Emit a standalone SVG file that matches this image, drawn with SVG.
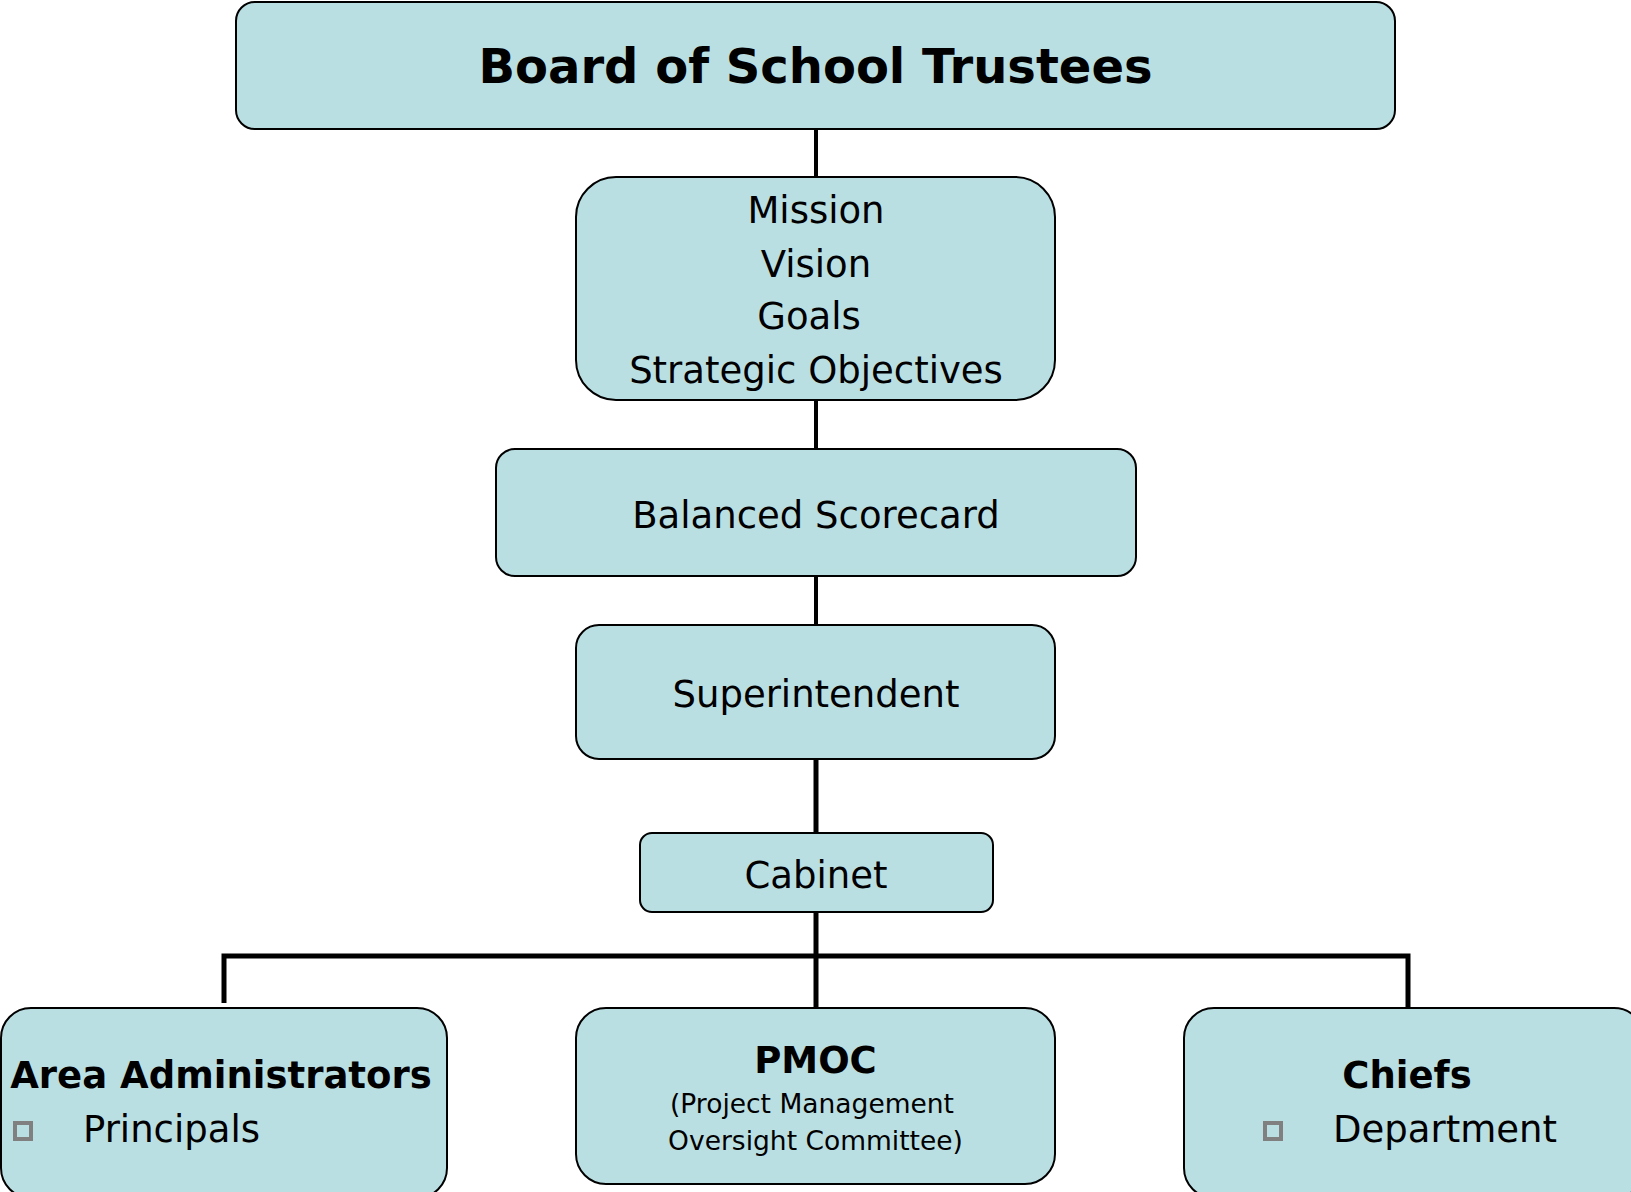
<svg xmlns="http://www.w3.org/2000/svg" width="1631" height="1192" viewBox="0 0 1631 1192">
<style>
.box{fill:#BADFE3;stroke:#000;stroke-width:2}
.t{font-family:"DejaVu Sans","Verdana",sans-serif;font-size:37px;fill:#000;text-anchor:middle}
.b{font-weight:bold}
.s{font-size:26.5px}
.tl{text-anchor:start}
.bul{fill:none;stroke:#808080;stroke-width:4}
.c{stroke:#000;fill:none;stroke-linecap:butt}
</style>
<rect width="1631" height="1192" fill="#fff"/>
<g id="connectors">
<line class="c" x1="816" y1="129" x2="816" y2="177" stroke-width="4"/>
<line class="c" x1="816" y1="400" x2="816" y2="449" stroke-width="4"/>
<line class="c" x1="816" y1="576" x2="816" y2="625" stroke-width="4"/>
<line class="c" x1="816" y1="759" x2="816" y2="833" stroke-width="5"/>
<line class="c" x1="816" y1="912" x2="816" y2="1008" stroke-width="5"/>
<polyline class="c" points="224,1003 224,956 1408,956 1408,1008" stroke-width="5"/>
</g>
<g id="board">
<rect class="box" x="236" y="2" width="1159" height="127" rx="19"/>
<text class="t b" x="815.5" y="83" style="font-size:48px">Board of School Trustees</text>
</g>
<g id="mission">
<rect class="box" x="576" y="177" width="479" height="223" rx="40"/>
<text class="t" x="816" y="223">Mission</text>
<text class="t" x="816" y="277">Vision</text>
<text class="t" x="809" y="329">Goals</text>
<text class="t" x="816" y="383">Strategic Objectives</text>
</g>
<g id="scorecard">
<rect class="box" x="496" y="449" width="640" height="127" rx="19"/>
<text class="t" x="816" y="528">Balanced Scorecard</text>
</g>
<g id="superintendent">
<rect class="box" x="576" y="625" width="479" height="134" rx="23"/>
<text class="t" x="816" y="707">Superintendent</text>
</g>
<g id="cabinet">
<rect class="box" x="640" y="833" width="353" height="79" rx="12"/>
<text class="t" x="816" y="888">Cabinet</text>
</g>
<g id="area">
<rect class="box" x="1" y="1008" width="446" height="190" rx="30"/>
<text class="t b" x="221" y="1088">Area Administrators</text>
<rect class="bul" x="15" y="1123" width="16" height="16"/>
<text class="t tl" x="83" y="1142">Principals</text>
</g>
<g id="pmoc">
<rect class="box" x="576" y="1008" width="479" height="176" rx="30"/>
<text class="t b" x="815.5" y="1073">PMOC</text>
<text class="t s" x="812" y="1113">(Project Management</text>
<text class="t s" x="815.5" y="1150">Oversight Committee)</text>
</g>
<g id="chiefs">
<rect class="box" x="1184" y="1008" width="460" height="190" rx="30"/>
<text class="t b" x="1407" y="1088">Chiefs</text>
<rect class="bul" x="1265" y="1123" width="16" height="16"/>
<text class="t tl" x="1333" y="1142">Department</text>
</g>
</svg>
